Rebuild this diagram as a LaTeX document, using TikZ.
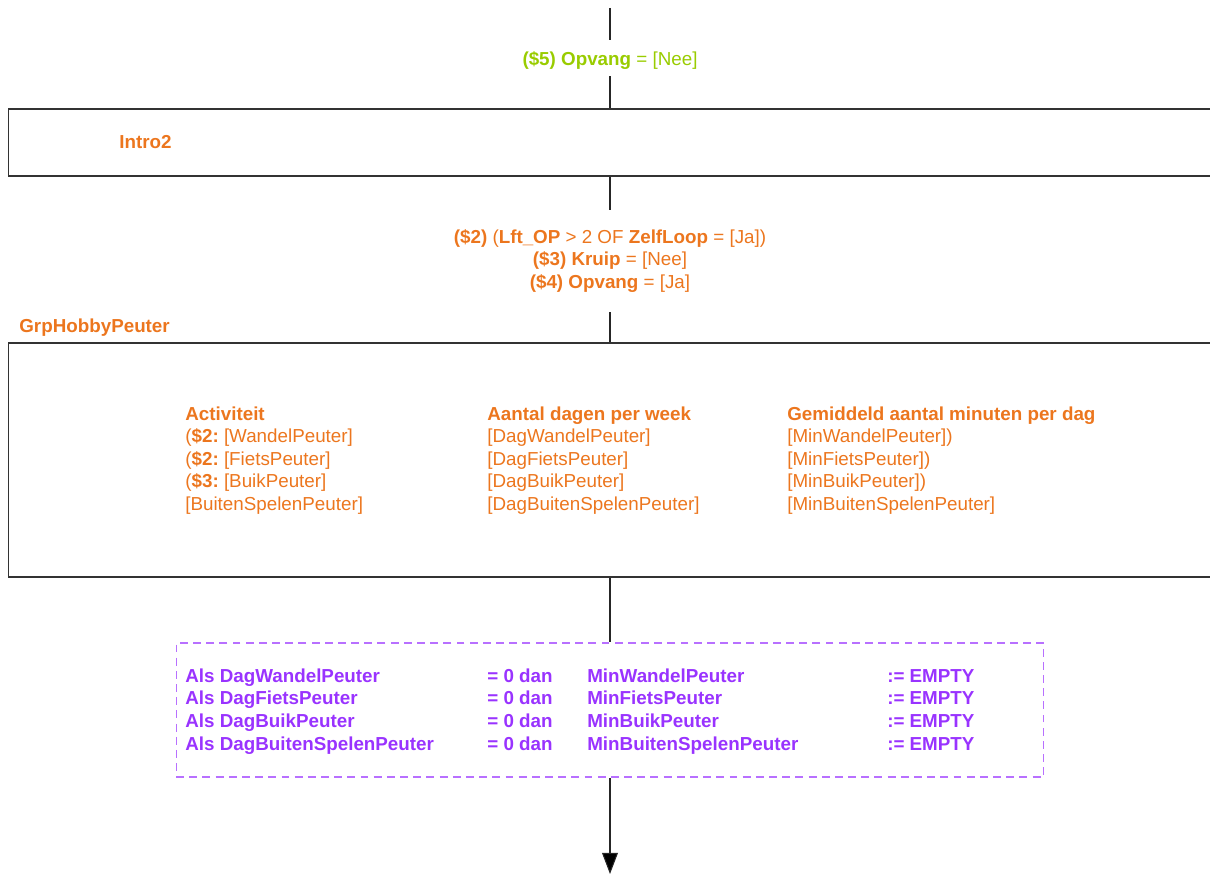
\documentclass[tikz,border=0pt]{standalone}
\usepackage{fontspec}
\setmainfont{Liberation Sans}
\usepackage{xcolor}
\usetikzlibrary{arrows.meta}

\definecolor{condgreen}{RGB}{153,204,0}
\definecolor{qorange}{RGB}{236,118,30}
\definecolor{rulepurple}{RGB}{153,51,255}
\newcommand{\diafont}{\fontsize{10.7}{12.9}\selectfont}

\tikzset{
  flowline/.style={draw=black!85, line width=0.6pt},
  blockbox/.style={draw=black!80, line width=0.6pt, minimum width=24.08cm, inner sep=0pt},
  condtext/.style={inner sep=0pt, align=center, font=\diafont, minimum height=#1},
  blocktitle/.style={inner sep=0pt, anchor=base west, qorange, font=\diafont\bfseries},
  tbltext/.style={inner sep=0pt, anchor=base west, font=\diafont},
}

\begin{document}
\begin{tikzpicture}[x=0.02cm, y=-0.02cm]
  \useasboundingbox (0,0) rectangle (1210,875);

  % filter before Intro2
  \coordinate (start) at (610,8);
  \node[inner sep=0pt, font=\diafont, condgreen, text height=14.8pt, text depth=5.7pt,
        anchor=base] (cond5) at (610,66)
    {\textbf{(\$5) Opvang} = [Nee]};

  % Intro2
  \node[blockbox, minimum height=1.34cm] (intro) at (610,142.5) {};
  \node[blocktitle] (introlbl) at (119,148.5) {Intro2};

  % filter before the group
  \node[condtext=2.04cm, qorange] (cond234) at (610,261)
    {\textbf{(\$2)} (\textbf{Lft\_OP} > 2 OF \textbf{ZelfLoop} = [Ja])\\
     \textbf{(\$3) Kruip} = [Nee]\\
     \textbf{(\$4) Opvang} = [Ja]};

  % GrpHobbyPeuter
  \node[blocktitle] (hobbylbl) at (19,332) {GrpHobbyPeuter};
  \node[blockbox, minimum height=4.68cm] (hobby) at (610,460) {};
  \node[tbltext, qorange] (hobbytbl) at (185,420)
    {\begin{tabular}[t]{@{}p{171.9pt}@{}p{170.7pt}@{}l@{}}
      \textbf{Activiteit} & \textbf{Aantal dagen per week} & \textbf{Gemiddeld aantal minuten per dag}\\
      (\textbf{\$2:}~[WandelPeuter] & [DagWandelPeuter] & [MinWandelPeuter])\\
      (\textbf{\$2:}~[FietsPeuter] & [DagFietsPeuter] & [MinFietsPeuter])\\
      (\textbf{\$3:}~[BuikPeuter] & [DagBuikPeuter] & [MinBuikPeuter])\\
      {[BuitenSpelenPeuter]} & [DagBuitenSpelenPeuter] & [MinBuitenSpelenPeuter]
    \end{tabular}};

  % reset rules
  \node[draw=rulepurple!70, line width=0.6pt, dash pattern=on 4.5pt off 3pt,
        minimum width=17.36cm, minimum height=2.68cm, inner sep=0pt] (reset) at (610,710) {};
  \node[tbltext, rulepurple, font=\diafont\bfseries] (resettbl) at (185,682)
    {\begin{tabular}[t]{@{}p{171.9pt}@{}p{56.9pt}@{}p{170.7pt}@{}l@{}}
      Als DagWandelPeuter & = 0 dan & MinWandelPeuter & := EMPTY\\
      Als DagFietsPeuter & = 0 dan & MinFietsPeuter & := EMPTY\\
      Als DagBuikPeuter & = 0 dan & MinBuikPeuter & := EMPTY\\
      Als DagBuitenSpelenPeuter & = 0 dan & MinBuitenSpelenPeuter & := EMPTY
    \end{tabular}};
  \coordinate (finish) at (610,874);

  % connectors
  \draw[flowline] (start) -- (cond5);
  \draw[flowline] (cond5) -- (intro);
  \draw[flowline] (intro) -- (cond234);
  \draw[flowline] (cond234) -- (hobby);
  \draw[flowline] (hobby) -- (reset);
  \draw[flowline, -{Triangle[width=9pt,length=12pt,fill=black]}] (reset) -- (finish);
\end{tikzpicture}
\end{document}
